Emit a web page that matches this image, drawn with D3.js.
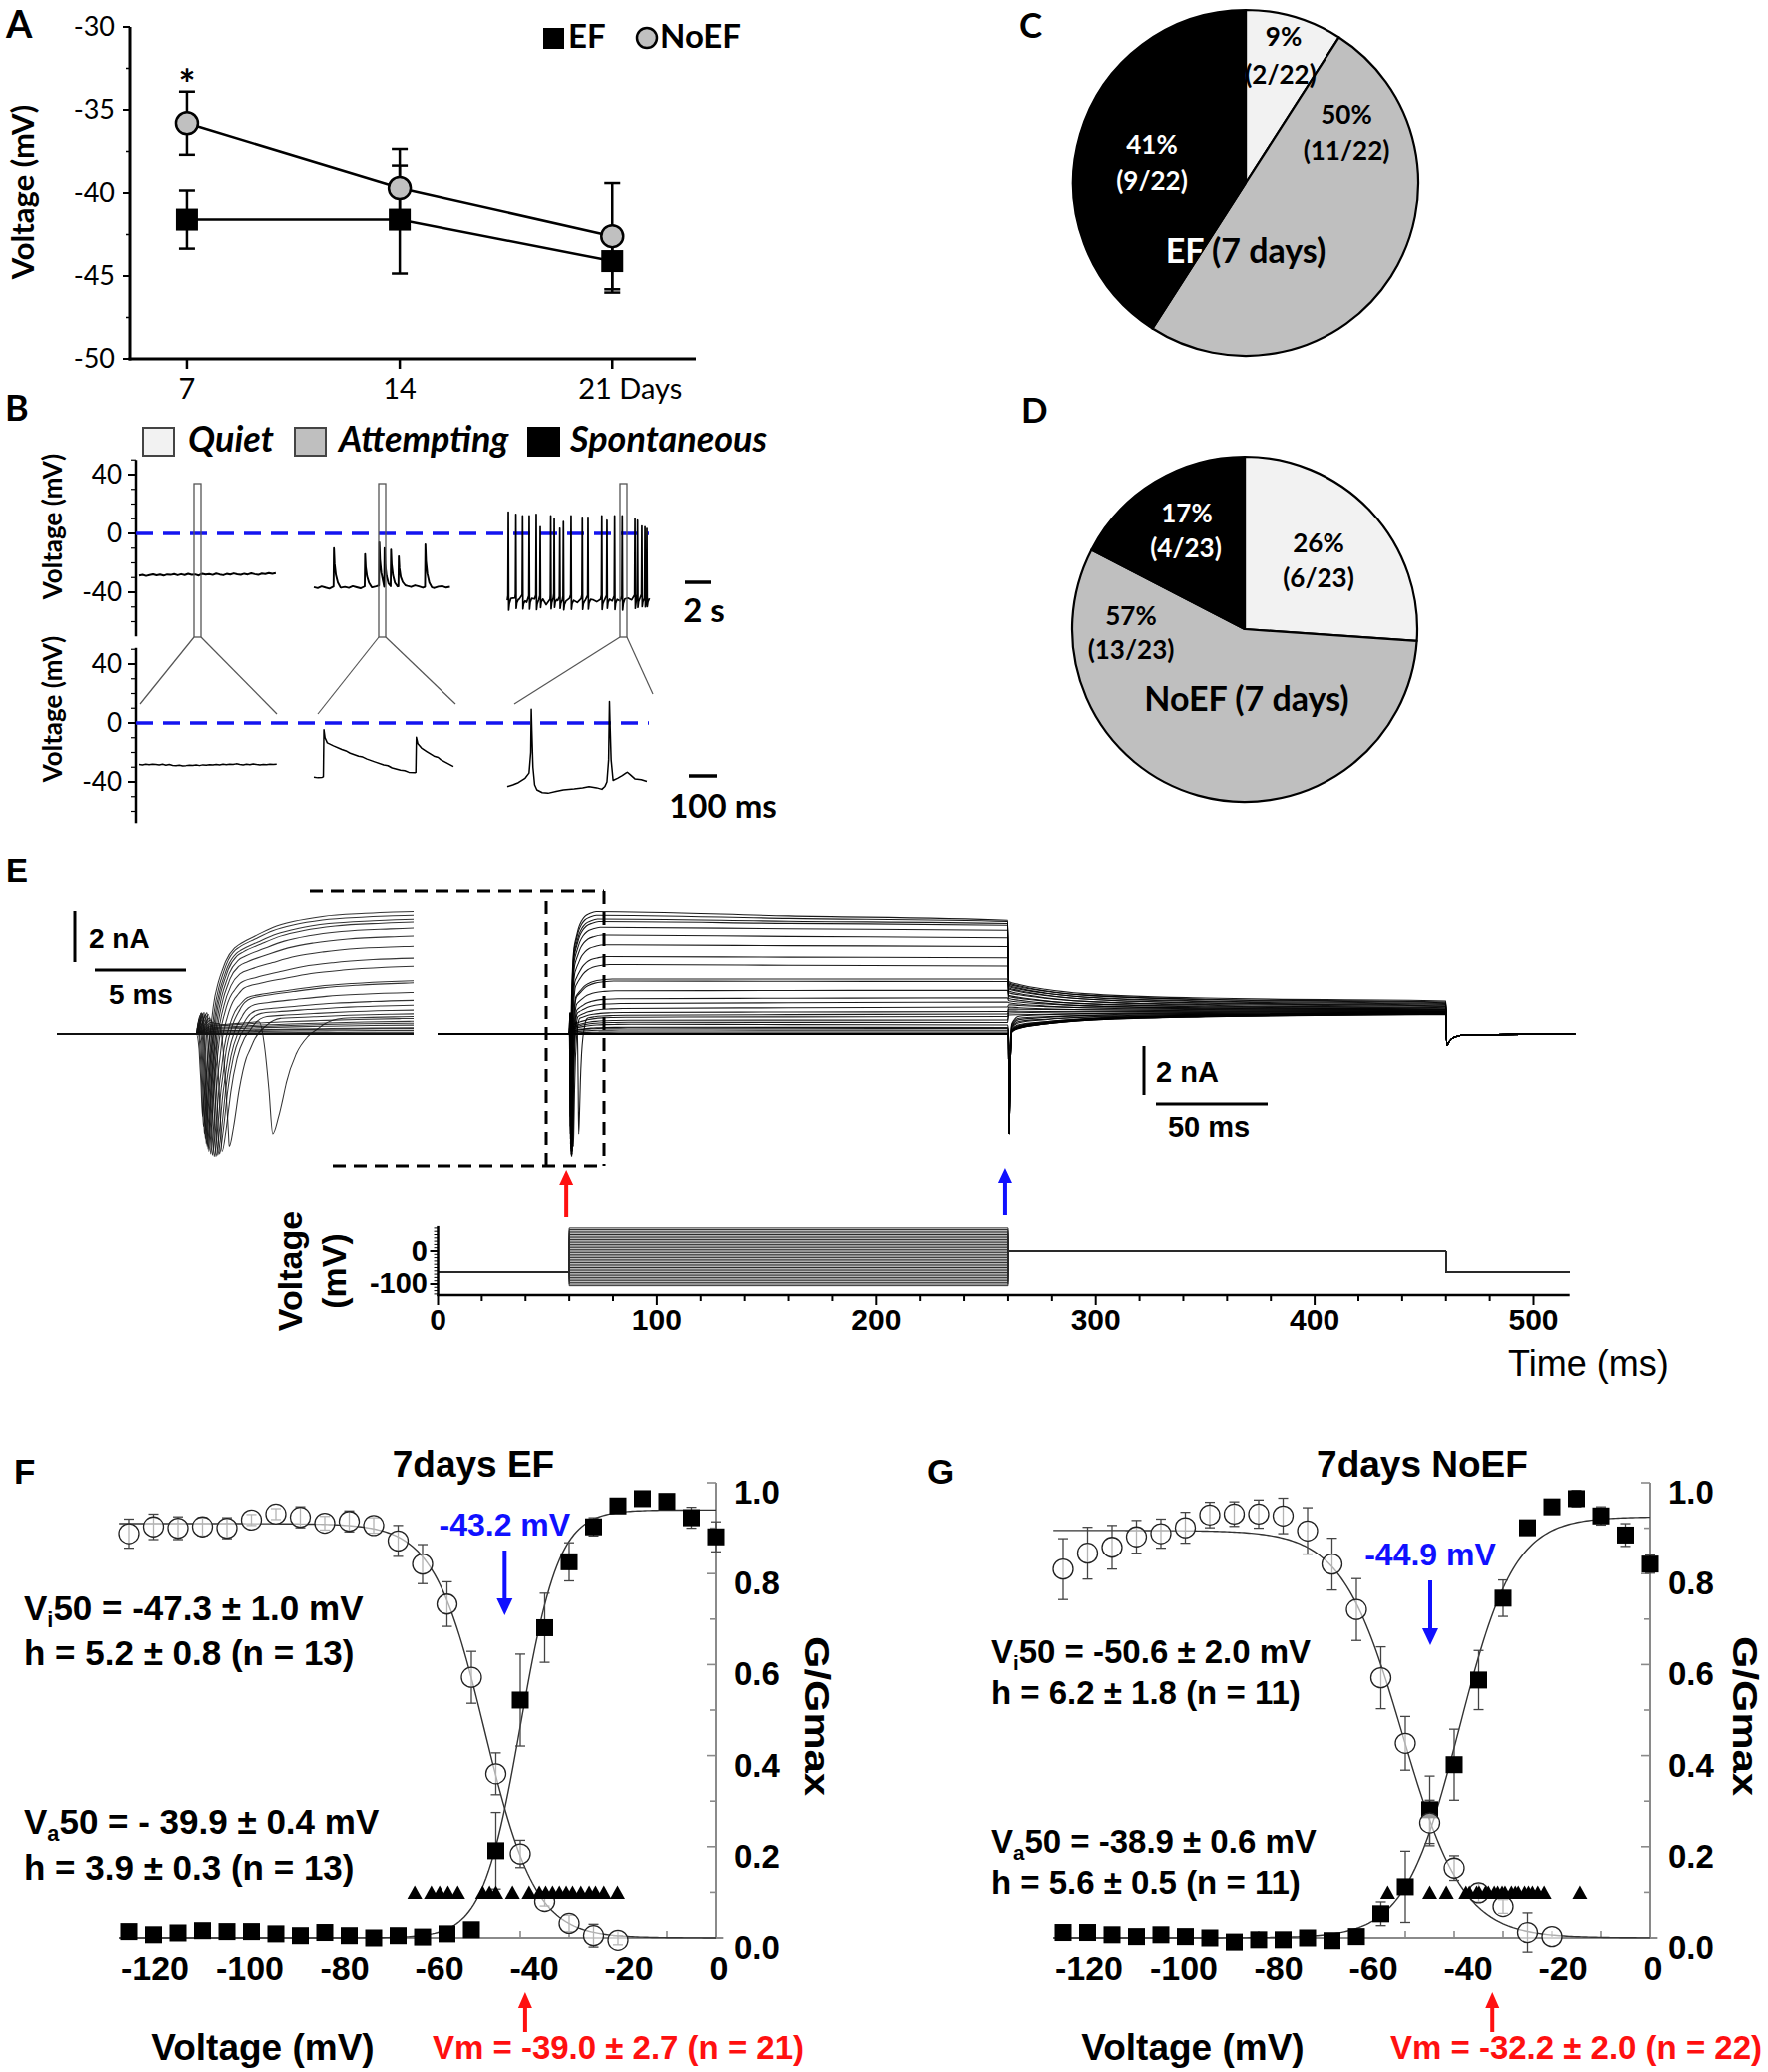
<!DOCTYPE html>
<html><head><meta charset="utf-8">
<script src="https://cdn.jsdelivr.net/npm/d3@7/dist/d3.min.js"></script>
<style>html,body{margin:0;padding:0;background:#fff;}svg{display:block}</style>
</head><body>
<svg id="fig" width="1770" height="2074" xmlns="http://www.w3.org/2000/svg"></svg>
<script>
// ======================= DATA =======================
// --- Panel A: resting potential vs days in culture
const daysA = [7, 14, 21];
const efMean = [-41.6, -41.6, -44.1];
const efErr = [1.75, 3.25, 1.9];
const noefMean = [-35.8, -39.7, -42.6];
const noefErr = [1.9, 2.35, 3.2];
const yTicksA = [-30, -35, -40, -45, -50];

// --- Panel B: example recordings
const quietTopDt = 0.27; // s between samples
const quietTop = [-28.6,-28.1,-28.9,-28.3,-27.8,-28.5,-28.0,-28.7,-27.9,-28.2,-27.6,-28.4,-27.7,-28.3,-27.5,-28.1,-27.9,-28.6,-27.4,-28.0,-27.6,-28.2,-27.3,-27.9,-28.4,-27.5,-28.0,-27.2,-27.8,-28.1,-27.4,-27.9,-27.1,-27.7,-28.2,-27.3,-27.6,-26.9,-27.5,-27.0];
const attTopDt = 0.3;
const attTop = [-36.5,-37.2,-36.0,-36.8,-37.5,-36.2,-35.8,-36.9,-36.4,-37.0,-35.9,-36.6,-37.3,-36.1,-35.5,-36.7,-36.0,-35.2,-36.3,-36.8,-35.6,-36.2,-35.9,-34.8,-35.7,-36.4,-35.3,-36.0,-36.9,-35.8,-36.5,-37.1,-36.2,-35.9,-36.8,-36.3];
const attSpikeT = [1.55, 3.95, 5.05, 5.45, 5.95, 6.55, 8.6];
const attSpikeV = [-10, -14, -6, -10, -11, -15.5, -7.5];
const spTopDt = 0.3;
const spTop = [-45.5,-44.2,-43.8,-45.0,-44.5,-46.8,-43.9,-44.6,-45.2,-44.0,-48.5,-44.8,-43.5,-45.6,-44.9,-46.2,-44.1,-45.4,-47.0,-44.3,-45.8,-44.6,-45.1,-46.5,-44.7,-45.3,-44.2,-45.9,-44.5,-46.0,-44.8,-43.9,-45.2,-44.4,-43.6,-44.1];
const spSpikeT = [0.08,0.66,1.18,1.69,2.23,2.54,3.35,3.62,4.05,4.33,4.92,5.79,6.23,7.29,7.69,8.28,8.87,9.85,10.05,10.38,10.62,10.77];
const spSpikeV = [14.5,13,12,12,13,4.5,12,10,3.5,8,12,11,11,12,9,12,12,10,9,5,4.5,3.4];
const quietLowDt = 12; // ms
const quietLow = [-28.2,-28.5,-28.0,-28.3,-27.9,-28.1,-28.4,-28.0,-28.6,-28.2,-28.8,-29.0,-28.7,-29.1,-28.9,-28.6,-28.8,-28.5,-28.9,-28.4,-28.6,-28.3,-28.5,-28.1,-28.4,-28.0,-28.3,-27.9,-28.2,-27.7,-28.1,-28.4,-28.0,-28.3,-27.8,-28.2,-28.5,-28.1,-28.3,-27.9,-28.2,-28.0];
const attLow = [[0,-36.8],[15,-37.2],[30,-36.9],[34,-36.5],[36,-4.5],[40,-10],[48,-13.5],[70,-15.5],[100,-18],[118,-19.2],[130,-20.5],[160,-22.5],[175,-23.1],[190,-24.5],[220,-26.5],[250,-28.5],[265,-29.0],[280,-30.5],[310,-32],[325,-32.4],[340,-33.5],[362,-33.8],[365,-33.5],[367,-9.7],[372,-14],[385,-17],[405,-19.5],[430,-22.5],[445,-23.4],[455,-25],[480,-27.5],[500,-29.6]];
const spLow = [[0,-43.2],[20,-42],[40,-40.5],[64,-37.5],[78,-34],[84,-20],[86,9.3],[88,-5],[92,-30],[98,-42],[106,-45.4],[125,-47.3],[146,-47.7],[175,-46.5],[201,-45.4],[240,-44.8],[270,-44],[293,-43.2],[320,-44],[339,-45],[350,-43],[357,-40],[363,-25],[366,14.5],[368,0],[372,-25],[379,-39],[395,-37.5],[412,-35.7],[425,-34],[430,-33.4],[440,-35],[457,-37.9],[480,-38.5],[500,-39.7]];
const bTicks = [40, 0, -40];

// --- Panels C/D: firing categories
const pieCats = ["Quiet", "Attempting", "Spontaneous"];
const pieColors = ["#f2f2f2", "#bfbfbf", "#000000"];
const efCounts = [2, 11, 9];
const noefCounts = [6, 13, 4];

// --- Panel E: voltage-clamp family
const eProtoV = [70,65,60,55,50,45,40,35,30,25,20,15,10,5,0,-5,-10,-15,-20,-25,-30,-35,-40,-45,-50,-55,-60,-65,-70,-75,-80,-85,-90,-95,-100,-105];
const eHold = -64, eTestV = 0;
const eLevel = [4.90,4.75,4.60,4.50,4.27,3.96,3.57,3.10,2.78,2.20,2.12,1.73,1.41,1.22,1.02,0.86,0.75,0.67,0.55,0.47,0.39,0.27,0.24,0.16,0.08,0.03,0,0,0,0,0,0,0,0,0,0];
const eEnd = [4.55,4.50,4.42,4.35,4.15,3.85,3.50,3.05,2.72,2.20,2.10,1.75,1.45,1.28,1.08,0.90,0.80,0.70,0.56,0.46,0.36,0.26,0.22,0.15,0.08,0.03,0,0,0,0,0,0,0,0,0,0];
const eRiseSlow = [1.0,1.0,1.05,1.1,1.15,1.2,1.3,1.4,1.5,1.6,1.65,1.7,1.8,1.9,2.0,2.0,2.1,2.1,2.2,2.2,2.3,2.3,2.4,2.4,2.5,2.5,1,1,1,1,1,1,1,1,1,1];
const eNaAmp = [3.3,3.7,4.0,4.2,4.4,4.5,4.6,4.7,4.8,4.85,4.9,4.9,4.85,4.8,4.7,4.5,4.0,0,0,0,0,0,0,0,0,0,0,0,0,0,0,0,0,0,0,0];
const eNaLat = [0.35,0.4,0.45,0.5,0.55,0.6,0.65,0.7,0.8,0.9,1.0,1.1,1.2,1.3,1.45,1.85,4.3,0,0,0,0,0,0,0,0,0,0,0,0,0,0,0,0,0,0,0];
const eNaWidth = [1,1,1,1,1,1,1,1,1.05,1.1,1.15,1.2,1.25,1.3,1.4,1.6,2.2,1,1,1,1,1,1,1,1,1,1,1,1,1,1,1,1,1,1,1];
const eNa2 = [0,0,0,0,0,0,0,0,0,0,0,0,0,0,0,0,0,0,0,0,0.8,1.6,2.5,3.4,3.9,4.0,4.0,4.0,4.0,4.0,4.0,4.0,4.0,4.0,4.0,4.0];
const eTailStart = [2.10,2.05,2.00,1.95,1.90,1.85,1.80,1.72,1.65,1.55,1.50,1.42,1.33,1.25,1.17,1.08,1.00,0.92,0.84,0.76,0.68,0.60,0.52,0.45,0.38,0.30,0.25,0.22,0.20,0.18,0.17,0.16,0.15,0.14,0.13,0.12];
const eTailEnd = [1.32,1.25,1.28,1.18,1.22,1.12,1.15,1.05,1.10,1.00,1.04,0.96,1.00,0.93,0.98,0.90,0.95,0.87,0.92,0.84,0.90,0.82,0.88,0.80,0.86,0.78,0.85,0.80,0.84,0.79,0.83,0.81,0.78,0.84,0.80,0.82];
const eRiseT = [0, 0.2, 0.4, 0.9, 1.5, 2.4, 3.3, 4.3, 5.5, 7.1, 9.5, 12.3];
const eRiseF = [0, 0.2, 0.45, 0.53, 0.63, 0.73, 0.8, 0.87, 0.92, 0.96, 0.985, 1.0];
const eNaT = [-0.35, -0.2, -0.1, 0, 0.15, 0.35, 0.6, 0.9, 1.3, 1.8];
const eNaF = [0, 0.25, 0.6, 1.0, 0.85, 0.55, 0.3, 0.15, 0.05, 0];
const eTailT = [0.3, 5, 17, 35, 90, 200];
const eTailF = [1, 0.85, 0.6, 0.38, 0.15, 0];
const eOffT = [0.4, 1.5, 4, 10, 59];
const eOffI = [-0.45, -0.30, -0.12, -0.03, 0.0];
const eTimeTicks = [0, 100, 200, 300, 400, 500];

// --- Panels F/G: activation / inactivation
const gvV = [-120,-115,-110,-105,-100,-95,-90,-85,-80,-75,-70,-65,-60,-55,-50,-45,-40,-35,-30,-25,-20,-15,-10,-5,0];
const inV = [-120,-115,-110,-105,-100,-95,-90,-85,-80,-75,-70,-65,-60,-55,-50,-45,-40,-35,-30,-25,-20];
const efAct = [0.014,0.007,0.011,0.016,0.014,0.014,0.009,0.005,0.012,0.005,0.0,0.005,0.002,0.009,0.018,0.191,0.522,0.681,0.826,0.903,0.949,0.965,0.959,0.923,0.881];
const efActErr = [0.005,0.005,0.005,0.005,0.005,0.005,0.005,0.005,0.005,0.005,0.005,0.005,0.005,0.005,0.006,0.084,0.101,0.076,0.042,0.02,0.01,0.012,0.01,0.023,0.033];
const efInact = [0.888,0.903,0.900,0.903,0.900,0.918,0.931,0.924,0.911,0.915,0.906,0.872,0.821,0.733,0.572,0.360,0.184,0.080,0.032,0.005,-0.005];
const efInactErr = [0.032,0.028,0.025,0.02,0.023,0.012,0.012,0.023,0.015,0.023,0.017,0.034,0.043,0.049,0.057,0.046,0.03,0.01,0.018,0.025,0.01];
const efVm = [-61.6,-58.2,-56.5,-54.8,-52.8,-47.7,-46.3,-45.0,-41.6,-38.2,-36.1,-34.8,-33.4,-32.0,-30.6,-29.3,-27.6,-25.9,-24.6,-22.9,-20.1];
const noefAct = [0.012,0.012,0.007,0.003,0.007,0.003,0.0,-0.009,-0.004,-0.004,0.0,-0.006,0.003,0.053,0.112,0.281,0.380,0.566,0.746,0.901,0.947,0.965,0.927,0.885,0.821];
const noefActErr = [0.005,0.005,0.005,0.005,0.005,0.005,0.005,0.005,0.005,0.005,0.005,0.005,0.005,0.026,0.078,0.074,0.078,0.065,0.04,0.015,0.01,0.018,0.02,0.025,0.02];
const noefInact = [0.810,0.845,0.858,0.881,0.888,0.901,0.929,0.931,0.931,0.927,0.894,0.821,0.721,0.571,0.427,0.252,0.153,0.099,0.069,0.012,0.003];
const noefInactErr = [0.067,0.057,0.048,0.036,0.032,0.034,0.028,0.027,0.031,0.039,0.051,0.057,0.068,0.068,0.059,0.05,0.027,0.02,0.015,0.043,0.005];
const noefVm = [-53.6,-45.0,-41.6,-37.6,-36.9,-35.4,-34.9,-33.6,-33.0,-31.8,-31.1,-30.2,-29.6,-28.3,-27.5,-26.9,-25.6,-24.8,-24.0,-22.9,-21.6,-14.3];
const efFit = {actV50:-39.9, actH:3.9, actMax:0.94, inV50:-47.3, inH:5.2, inMax:0.91};
const noefFit = {actV50:-38.9, actH:5.6, actMax:0.925, inV50:-50.6, inH:6.2, inMax:0.895};
const gvXTicks = [-120,-100,-80,-60,-40,-20,0];
const gvYTicks = [0, 0.2, 0.4, 0.6, 0.8, 1.0];

// ======================= DRAWING =======================
const S = d3.select("#fig");
S.append("rect").attr("width",1770).attr("height",2074).attr("fill","#fff");
const FA = "Lato, 'Open Sans', 'DejaVu Sans', sans-serif";
const FE = "'Liberation Sans', Arial, sans-serif";

function txt(g, x, y, s, o = {}) {
  const t = g.append("text").attr("x", x).attr("y", y).text(s)
    .attr("font-family", o.ff || FA).attr("font-size", o.fs || 24)
    .attr("font-weight", o.fw || "normal").attr("fill", o.fill || "#000")
    .attr("text-anchor", o.anchor || "start");
  if (o.style) t.attr("font-style", o.style);
  if (o.len) t.attr("textLength", o.len).attr("lengthAdjust", "spacingAndGlyphs");
  if (o.rot != null) t.attr("transform", `rotate(${o.rot},${x},${y})`);
  return t;
}
function ln(g, x1, y1, x2, y2, stroke, w, dash) {
  const l = g.append("line").attr("x1", x1).attr("y1", y1).attr("x2", x2).attr("y2", y2)
    .attr("stroke", stroke || "#000").attr("stroke-width", w || 1);
  if (dash) l.attr("stroke-dasharray", dash);
  return l;
}
function arrowUp(g, x, yBottom, yTip, color, w, hw, hh) {
  ln(g, x, yBottom, x, yTip + hh - 1, color, w);
  g.append("path").attr("d", `M${x - hw},${yTip + hh} L${x},${yTip} L${x + hw},${yTip + hh} Z`).attr("fill", color);
}
function arrowDown(g, x, yTop, yTip, color, w, hw, hh) {
  ln(g, x, yTop, x, yTip - hh + 1, color, w);
  g.append("path").attr("d", `M${x - hw},${yTip - hh} L${x},${yTip} L${x + hw},${yTip - hh} Z`).attr("fill", color);
}

// ---------- Panel A ----------
{
  const g = S.append("g");
  const x = d3.scaleLinear().domain([5.13, 23.75]).range([130, 697]);
  const y = d3.scaleLinear().domain([-50, -30]).range([359, 27]);
  txt(g, 6, 38, "A", {fs: 38, fw: "bold"});
  ln(g, 130, y(-30), 130, y(-50) + 1.5, "#000", 3);
  ln(g, 128.5, y(-50), x(23.75), y(-50), "#000", 3);
  yTicksA.forEach(v => {
    ln(g, 123, y(v), 130, y(v), "#000", 2);
    txt(g, 115, y(v) + 9, String(v), {fs: 27, anchor: "end"});
  });
  [-32.5, -37.5, -42.5, -47.5].forEach(v => ln(g, 126, y(v), 130, y(v), "#000", 1.5));
  daysA.forEach(d => ln(g, x(d), y(-50), x(d), y(-50) + 10, "#000", 2.5));
  txt(g, x(7), 399, "7", {fs: 29, anchor: "middle"});
  txt(g, x(14), 399, "14", {fs: 29, anchor: "middle"});
  txt(g, x(21) + 18, 399, "21 Days", {fs: 29, anchor: "middle"});
  txt(g, 34, 192, "Voltage (mV)", {fs: 31, fw: "bold", anchor: "middle", rot: -90});
  const line = d3.line().x((d, i) => x(daysA[i])).y(d => y(d));
  g.append("path").attr("d", line(efMean)).attr("fill", "none").attr("stroke", "#000").attr("stroke-width", 2.5);
  g.append("path").attr("d", line(noefMean)).attr("fill", "none").attr("stroke", "#000").attr("stroke-width", 2.5);
  const eb = (m, e) => m.forEach((v, i) => {
    const cx = x(daysA[i]);
    ln(g, cx, y(v + e[i]), cx, y(v - e[i]), "#000", 2.5);
    ln(g, cx - 8, y(v + e[i]), cx + 8, y(v + e[i]), "#000", 2.5);
    ln(g, cx - 8, y(v - e[i]), cx + 8, y(v - e[i]), "#000", 2.5);
  });
  eb(efMean, efErr); eb(noefMean, noefErr);
  efMean.forEach((v, i) => g.append("rect").attr("x", x(daysA[i]) - 11).attr("y", y(v) - 11).attr("width", 22).attr("height", 22).attr("fill", "#000"));
  noefMean.forEach((v, i) => g.append("circle").attr("cx", x(daysA[i])).attr("cy", y(v)).attr("r", 11).attr("fill", "#c0c0c0").attr("stroke", "#000").attr("stroke-width", 2.5));
  txt(g, x(7), 99, "*", {fs: 40, fw: "bold", anchor: "middle"});
  g.append("rect").attr("x", 544).attr("y", 28).attr("width", 21).attr("height", 21).attr("fill", "#000");
  txt(g, 569, 48, "EF", {fs: 33, fw: "bold"});
  g.append("circle").attr("cx", 648).attr("cy", 38).attr("r", 10).attr("fill", "#c0c0c0").attr("stroke", "#000").attr("stroke-width", 2.5);
  txt(g, 661, 48, "NoEF", {fs: 33, fw: "bold"});
}

// ---------- Panel B ----------
{
  const g = S.append("g");
  txt(g, 5, 421, "B", {fs: 36, fw: "bold"});
  const leg = [[143, 188, "Quiet"], [295, 339, "Attempting"], [529, 571, "Spontaneous"]];
  leg.forEach((d, i) => {
    g.append("rect").attr("x", d[0]).attr("y", 428).attr("width", 31).attr("height", 28)
      .attr("fill", pieColors[i]).attr("stroke", i === 2 ? "#000" : "#444").attr("stroke-width", 2);
    txt(g, d[1], 452, pieCats[i], {fs: 36, fw: "bold", style: "italic"});
  });
  const yU = d3.scaleLinear().domain([-40, 40]).range([593, 475]);
  const yL = d3.scaleLinear().domain([-40, 40]).range([783, 665]);
  [[yU, 50, -70, 527], [yL, 51, -68, 710]].forEach(([ys, top, bot, lc]) => {
    ln(g, 136, ys(top), 136, ys(bot), "#000", 2.5);
    for (let v = -60; v <= 50; v += 10) if (v >= bot && v <= top) ln(g, 131, ys(v), 136, ys(v), "#000", 1.2);
    bTicks.forEach(v => { ln(g, 128, ys(v), 136, ys(v), "#000", 2); txt(g, 122, ys(v) + 9, String(v), {fs: 26, anchor: "end"}); });
    txt(g, 62, lc, "Voltage (mV)", {fs: 26, fw: "bold", anchor: "middle", rot: -90});
    ln(g, 136, ys(0), 650, ys(0), "#1414f0", 3.5, "17,10");
  });
  function withSpikes(base, dt, spT, spV, shT, shF) {
    const tb = base.map((v, k) => k * dt);
    const bs = d3.scaleLinear().domain(tb).range(base).clamp(true);
    let pts = base.map((v, k) => [tb[k], v]);
    spT.forEach((t, j) => {
      const t0 = t + shT[0], t1 = t + shT[shT.length - 1];
      pts = pts.filter(p => p[0] < t0 || p[0] > t1);
      shT.forEach((s, k) => { const b = bs(t + s); pts.push([t + s, b + (spV[j] - b) * shF[k]]); });
    });
    return pts.sort((a, b) => a[0] - b[0]);
  }
  const drawTrace = (pts, x0, pxPerUnit, ys, w) => {
    const xs = d3.scaleLinear().domain([0, 1]).range([x0, x0 + pxPerUnit]);
    g.append("path").attr("d", d3.line().x(d => xs(d[0])).y(d => ys(d[1]))(pts))
      .attr("fill", "none").attr("stroke", "#000").attr("stroke-width", w).attr("stroke-linejoin", "round");
  };
  drawTrace(quietTop.map((v, k) => [k * quietTopDt, v]), 139, 13, yU, 2);
  drawTrace(withSpikes(attTop, attTopDt, attSpikeT, attSpikeV, [-0.03, 0, 0.05, 0.15, 0.3, 0.5], [0, 1, 0.6, 0.3, 0.1, 0]), 314, 13, yU, 1.9);
  drawTrace(withSpikes(spTop, spTopDt, spSpikeT, spSpikeV, [-0.03, 0, 0.03, 0.08, 0.2], [0.05, 1, -0.12, -0.05, 0]), 508, 13, yU, 1.7);
  drawTrace(quietLow.map((v, k) => [k * quietLowDt, v]), 139, 0.28, yL, 1.5);
  drawTrace(attLow, 314, 0.28, yL, 1.5);
  drawTrace(spLow, 508, 0.28, yL, 1.5);
  [[194, 140, 277, 705, 715], [379, 318, 456, 715, 705], [621, 515, 654, 705, 695]].forEach(d => {
    g.append("rect").attr("x", d[0]).attr("y", 484).attr("width", 7).attr("height", 154).attr("fill", "none").attr("stroke", "#555").attr("stroke-width", 1.3);
    ln(g, d[0], 638, d[1], d[3], "#555", 1.2);
    ln(g, d[0] + 7, 638, d[2], d[4], "#555", 1.2);
  });
  ln(g, 686, 583, 712, 583, "#000", 3.5);
  txt(g, 705, 623, "2 s", {fs: 33, fw: "bold", anchor: "middle"});
  ln(g, 690, 777, 718, 777, "#000", 3.5);
  txt(g, 724, 819, "100 ms", {fs: 33, fw: "bold", anchor: "middle"});
}

// ---------- Panels C & D ----------
function drawPie(cx, cy, r, counts, letter, lx, ly, labels, title, titlePos) {
  const g = S.append("g");
  txt(g, lx, ly, letter, {fs: 35, fw: "bold"});
  const total = d3.sum(counts);
  const arcs = d3.pie().sort(null).value(d => d)(counts);
  const arc = d3.arc().innerRadius(0).outerRadius(r);
  const pg = g.append("g").attr("transform", `translate(${cx},${cy})`);
  pg.selectAll("path").data(arcs).join("path").attr("d", arc)
    .attr("fill", (d, i) => pieColors[i]).attr("stroke", "#000").attr("stroke-width", 2.2).attr("stroke-linejoin", "round");
  const cid = "clip" + letter;
  g.append("clipPath").attr("id", cid).append("path").attr("d", arc(arcs[2])).attr("transform", `translate(${cx},${cy})`);
  const all = labels.map(L => [
    [L[0], L[1], Math.round(100 * counts[L[4]] / total) + "%"],
    [L[2], L[3], `(${counts[L[4]]}/${total})`]
  ]).flat();
  const draw = (fill, clip) => {
    const tg = g.append("g");
    if (clip) tg.attr("clip-path", `url(#${cid})`);
    all.forEach(d => txt(tg, d[0], d[1], d[2], {fs: 26, fw: "bold", anchor: "middle", fill}));
    txt(tg, titlePos[0], titlePos[1], title, {fs: 34, fw: "bold", anchor: "middle", fill});
  };
  draw("#000", false);
  draw("#fff", true);
}
drawPie(1247, 183, 173, efCounts, "C", 1020, 38,
  [[1285, 46, 1282, 84, 0], [1348, 124, 1348, 160, 1], [1153, 154, 1153, 190, 2]], "EF (7 days)", [1247, 263]);
drawPie(1246, 630, 173, noefCounts, "D", 1022, 423,
  [[1320, 553, 1320, 588, 0], [1132, 626, 1132, 660, 1], [1188, 523, 1187, 558, 2]], "NoEF (7 days)", [1248, 712]);

// ---------- Panel E ----------
{
  const g = S.append("g");
  txt(g, 6, 883, "E", {ff: FE, fs: 33, fw: "bold"});
  const xE = d3.scaleLinear().domain([0, 500]).range([438.5, 1535.5]);
  const yI = d3.scaleLinear().domain([0, 1]).range([1035, 1010]);
  const xIn = d3.scaleLinear().domain([52.25, 72.25]).range([58, 414]);
  const yV = d3.scaleLinear().domain([-100, 0]).range([1285, 1252]);

  function sweepPts(i) {
    const pts = [[0, 0], [59.99, 0]];
    const t0 = 60;
    const rT = eRiseT.map(t => t * eRiseSlow[i]);
    const rise = d3.scaleLinear().domain(rT).range(eRiseF).clamp(true);
    let ts = rT.slice();
    let na = null;
    if (eNaAmp[i] > 0) {
      const nT = eNaT.map(t => eNaLat[i] + t * eNaWidth[i]);
      const gross = eNaAmp[i] + eLevel[i] * rise(eNaLat[i]);
      na = d3.scaleLinear().domain(nT).range(eNaF.map(f => -f * gross)).clamp(true);
      ts = ts.concat(nT);
    }
    ts = ts.filter(t => t >= 0).sort((a, b) => a - b).filter((t, k, a) => k === 0 || t - a[k - 1] > 1e-4);
    ts.forEach(t => pts.push([t0 + t + 0.02, eLevel[i] * rise(t) + (na ? na(t) : 0)]));
    pts.push([160, (eLevel[i] + eEnd[i]) / 2]);
    pts.push([259.8, eEnd[i]]);
    if (eNa2[i] > 0) {
      pts.push([260.15, eEnd[i] * 0.5], [260.5, -eNa2[i]], [261.0, -0.35 * eNa2[i]], [261.7, 0.6 * eTailStart[i]]);
      eTailT.forEach((t, k) => { if (t >= 2) pts.push([260 + t, eTailEnd[i] + (eTailStart[i] - eTailEnd[i]) * eTailF[k]]); });
    } else {
      eTailT.forEach((t, k) => pts.push([260 + t, eTailEnd[i] + (eTailStart[i] - eTailEnd[i]) * eTailF[k]]));
    }
    eOffT.forEach((t, k) => pts.push([460 + t, eOffI[k]]));
    return pts;
  }
  const sweeps = eProtoV.map((v, i) => sweepPts(i));
  const lineMain = d3.line().x(d => xE(d[0])).y(d => yI(d[1])).curve(d3.curveMonotoneX);
  g.append("g").selectAll("path").data(sweeps).join("path").attr("d", lineMain)
    .attr("fill", "none").attr("stroke", "#000").attr("stroke-width", 1.1).attr("stroke-opacity", 0.9);
  g.append("clipPath").attr("id", "insetClip").append("rect").attr("x", 57).attr("y", 860).attr("width", 357).attr("height", 330);
  const lineIn = d3.line().x(d => xIn(d[0])).y(d => yI(d[1])).curve(d3.curveMonotoneX);
  g.append("g").attr("clip-path", "url(#insetClip)").selectAll("path").data(sweeps).join("path").attr("d", lineIn)
    .attr("fill", "none").attr("stroke", "#111").attr("stroke-width", 1.05).attr("stroke-opacity", 0.85);
  const dash = "13,8";
  ln(g, 310, 892, 605, 892, "#000", 3, dash);
  ln(g, 605, 892, 605, 1167, "#000", 3, dash);
  ln(g, 333, 1167, 605, 1167, "#000", 3, dash);
  ln(g, 547, 902, 547, 1167, "#000", 3, dash);
  ln(g, 75, 912, 75, 963, "#000", 3);
  txt(g, 89, 949, "2 nA", {ff: FE, fs: 28, fw: "bold"});
  ln(g, 95, 971, 186, 971, "#000", 3);
  txt(g, 141, 1005, "5 ms", {ff: FE, fs: 28, fw: "bold", anchor: "middle"});
  ln(g, 1145, 1047, 1145, 1096, "#000", 3);
  txt(g, 1157, 1083, "2 nA", {ff: FE, fs: 29, fw: "bold"});
  ln(g, 1157, 1105, 1269, 1105, "#000", 3);
  txt(g, 1210, 1138, "50 ms", {ff: FE, fs: 29, fw: "bold", anchor: "middle"});
  arrowUp(g, xE(60) - 3, 1218, 1171, "#ff1010", 4, 7, 15);
  arrowUp(g, xE(260) - 3, 1216, 1169, "#1010ff", 4, 7, 15);
  const protoLine = d3.line().x(d => xE(d[0])).y(d => yV(d[1]));
  g.append("g").selectAll("path").data(eProtoV).join("path")
    .attr("d", v => protoLine([[0, eHold], [60, eHold], [60, v], [260, v], [260, eTestV], [460, eTestV], [460, eHold], [516.5, eHold]]))
    .attr("fill", "none").attr("stroke", "#2a2a2a").attr("stroke-width", 1);
  ln(g, xE(0), yV(76), xE(0), 1297, "#000", 2.5);
  ln(g, xE(0) - 1, 1296, xE(516.5), 1296, "#000", 2.5);
  for (let v = -130; v <= 70; v += 10) ln(g, xE(0) - 4, yV(v), xE(0), yV(v), "#000", 1);
  [0, -100].forEach(v => { ln(g, xE(0) - 8, yV(v), xE(0), yV(v), "#000", 2); });
  txt(g, 428, 1262, "0", {ff: FE, fs: 29, fw: "bold", anchor: "end"});
  txt(g, 428, 1294, "-100", {ff: FE, fs: 29, fw: "bold", anchor: "end"});
  for (let t = 0; t <= 510; t += 20) ln(g, xE(t), 1296, xE(t), 1296 + (t % 100 === 0 ? 10 : 6), "#000", 2);
  eTimeTicks.forEach(t => txt(g, xE(t), 1331, String(t), {ff: FE, fs: 30, fw: "bold", anchor: "middle"}));
  txt(g, 302, 1272, "Voltage", {ff: FE, fs: 34, fw: "bold", anchor: "middle", rot: -90});
  txt(g, 346, 1272, "(mV)", {ff: FE, fs: 34, fw: "bold", anchor: "middle", rot: -90});
  txt(g, 1510, 1377, "Time (ms)", {ff: FE, fs: 36});
}

// ---------- Panels F & G ----------
function drawGV(c) {
  const g = S.append("g");
  const x = d3.scaleLinear().domain([-120, 0]).range([c.x0 - 4.9 * 120, c.x0]);
  const y = d3.scaleLinear().domain([0, 1]).range([1940, 1484]);
  const grey = "#8a8a8a";
  txt(g, c.letterX, 1485, c.letter, {ff: FE, fs: 35, fw: "bold"});
  txt(g, c.titleX, 1478, c.title, {ff: FE, fs: 37, fw: "bold", anchor: "middle"});
  ln(g, x(-122), y(0), x(1.5), y(0), grey, 2);
  ln(g, x(0), y(0), x(0), y(1), grey, 2);
  for (let v = -120; v <= 0; v += 10) ln(g, x(v), y(0), x(v), y(0) - 7, grey, 1.6);
  for (let k = 0; k <= 10; k++) ln(g, x(0), y(k / 10), x(0) - (k % 2 === 0 ? 9 : 6), y(k / 10), grey, 1.6);
  gvXTicks.forEach(v => txt(g, c.x0 + 4.75 * v + (v < 0 ? 8 : 3), 1982, String(v), {ff: FE, fs: 34, fw: "bold", anchor: "middle"}));
  gvYTicks.forEach(v => txt(g, x(0) + 18, y(v) + 21, v.toFixed(1), {ff: FE, fs: 33, fw: "bold"}));
  txt(g, c.glabX, 1718, "G/Gmax", {ff: FE, fs: 35, fw: "bold", anchor: "middle", rot: 90, len: 160});
  const fv = d3.range(-122, 0.01, 0.5);
  const fitLine = d3.line().x(d => x(d[0])).y(d => y(d[1]));
  g.append("path").attr("d", fitLine(fv.map(v => [v, c.fit.actMax / (1 + Math.exp((c.fit.actV50 - v) / c.fit.actH))])))
    .attr("fill", "none").attr("stroke", "#333").attr("stroke-width", 1.4);
  g.append("path").attr("d", fitLine(fv.map(v => [v, c.fit.inMax / (1 + Math.exp((v - c.fit.inV50) / c.fit.inH))])))
    .attr("fill", "none").attr("stroke", "#333").attr("stroke-width", 1.4);
  const eb = (vs, m, e) => m.forEach((val, i) => {
    if (e[i] < 0.008) return;
    const cx = x(vs[i]);
    ln(g, cx, y(val + e[i]), cx, y(val - e[i]), "#444", 1.3);
    ln(g, cx - 5, y(val + e[i]), cx + 5, y(val + e[i]), "#444", 1.3);
    ln(g, cx - 5, y(val - e[i]), cx + 5, y(val - e[i]), "#444", 1.3);
  });
  eb(gvV, c.act, c.actErr);
  eb(inV, c.inact, c.inactErr);
  c.act.forEach((val, i) => g.append("rect").attr("x", x(gvV[i]) - 8.5).attr("y", y(val) - 8.5).attr("width", 17).attr("height", 17).attr("fill", "#000"));
  c.inact.forEach((val, i) => g.append("circle").attr("cx", x(inV[i])).attr("cy", y(val)).attr("r", 10).attr("fill", "#fff").attr("fill-opacity", 0.6).attr("stroke", "#222").attr("stroke-width", 1.3));
  c.vm.forEach(v => {
    const cx = x(v), cy = y(0.1);
    g.append("path").attr("d", `M${cx - 7.5},${cy + 6.5} L${cx},${cy - 7} L${cx + 7.5},${cy + 6.5} Z`).attr("fill", "#000");
  });
  const fs = c.textFs;
  const sub = (yb, letter, rest) => {
    const t = txt(g, c.textX, yb, "V", {ff: FE, fs, fw: "bold"});
    t.append("tspan").attr("font-size", fs * 0.62).attr("dy", fs * 0.2).text(letter);
    t.append("tspan").attr("dy", -fs * 0.2).text(rest);
  };
  sub(c.ty[0], "i", c.t1);
  txt(g, c.textX, c.ty[1], c.t2, {ff: FE, fs, fw: "bold"});
  sub(c.ty[2], "a", c.t3);
  txt(g, c.textX, c.ty[3], c.t4, {ff: FE, fs, fw: "bold"});
  txt(g, x(c.blueV), c.blueY, c.blueV.toFixed(1) + " mV", {ff: FE, fs: 32, fw: "bold", anchor: "middle", fill: "#1010ff"});
  arrowDown(g, x(c.blueV), c.blueY + 15, c.blueY + 80, "#1010ff", 4, 8, 17);
  arrowUp(g, x(c.vmMean), 2034, 1994, "#ff1010", 4, 7, 16);
  txt(g, c.redX, 2061, c.redText, {ff: FE, fs: 33, fw: "bold", anchor: "middle", fill: "#ff1010"});
  txt(g, c.xlabX, 2062, "Voltage (mV)", {ff: FE, fs: 37, fw: "bold", anchor: "middle"});
}
drawGV({x0: 717, letter: "F", letterX: 14, title: "7days EF", titleX: 474, fit: efFit, glabX: 806,
  act: efAct, actErr: efActErr, inact: efInact, inactErr: efInactErr, vm: efVm,
  textX: 24, textFs: 35, ty: [1622, 1667, 1836, 1882],
  t1: "50 = -47.3 ± 1.0 mV", t2: "h = 5.2 ± 0.8 (n = 13)", t3: "50 = - 39.9 ± 0.4 mV", t4: "h = 3.9 ± 0.3 (n = 13)",
  blueV: -43.2, blueY: 1537, vmMean: -39.0, redX: 619, redText: "Vm = -39.0 ± 2.7 (n = 21)", xlabX: 263});
drawGV({x0: 1652, letter: "G", letterX: 928, title: "7days NoEF", titleX: 1424, fit: noefFit, glabX: 1735,
  act: noefAct, actErr: noefActErr, inact: noefInact, inactErr: noefInactErr, vm: noefVm,
  textX: 992, textFs: 33, ty: [1665, 1706, 1855, 1896],
  t1: "50 = -50.6 ± 2.0 mV", t2: "h = 6.2 ± 1.8 (n = 11)", t3: "50 = -38.9 ± 0.6 mV", t4: "h = 5.6 ± 0.5 (n = 11)",
  blueV: -44.9, blueY: 1567, vmMean: -32.2, redX: 1578, redText: "Vm = -32.2 ± 2.0 (n = 22)", xlabX: 1194});
</script>
</body></html>
